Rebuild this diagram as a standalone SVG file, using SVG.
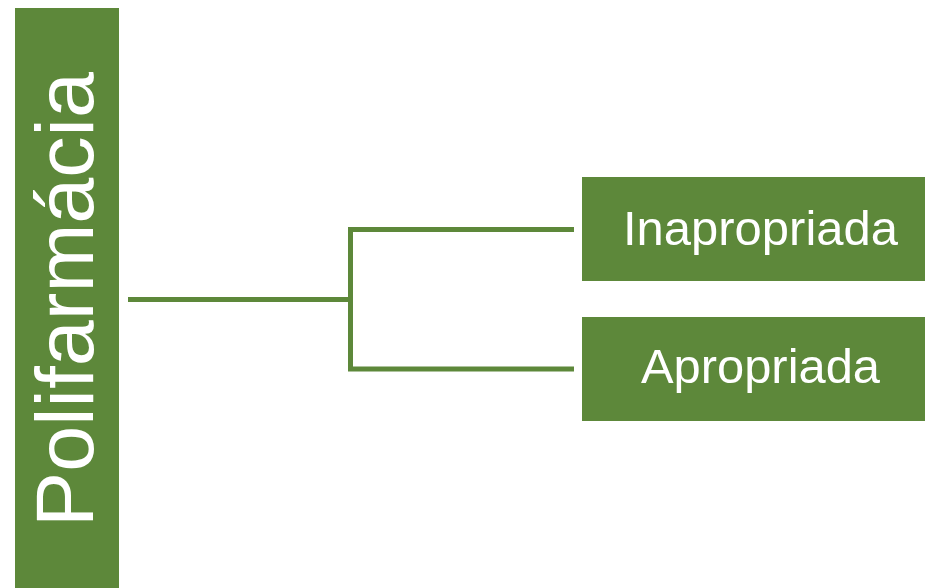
<svg xmlns="http://www.w3.org/2000/svg" width="925" height="588" viewBox="0 0 925 588">
<style>
.box{fill:#5D883A;}
.lbl{fill:#ffffff;font-family:"Liberation Sans",Arial,sans-serif;}
.conn{stroke:#5D883A;stroke-width:5;fill:none;}
</style>
<rect width="925" height="588" fill="#ffffff"/>
<g id="node-polifarmacia">
<rect class="box" x="15" y="8" width="104" height="580"/>
<text class="lbl" transform="translate(93,527) rotate(-90)" font-size="82" textLength="455" lengthAdjust="spacingAndGlyphs">Polifarmácia</text>
</g>
<g id="connectors">
<polyline class="conn" points="128,299.5 350.5,299.5"/>
<polyline class="conn" points="574,229.5 350.5,229.5 350.5,369 574,369"/>
</g>
<g id="node-inapropriada">
<rect class="box" x="582" y="177" width="343" height="104"/>
<text class="lbl" x="623" y="245" font-size="49" textLength="275" lengthAdjust="spacingAndGlyphs">Inapropriada</text>
</g>
<g id="node-apropriada">
<rect class="box" x="582" y="317" width="343" height="104"/>
<text class="lbl" x="641" y="383" font-size="49" textLength="239" lengthAdjust="spacingAndGlyphs">Apropriada</text>
</g>
</svg>
